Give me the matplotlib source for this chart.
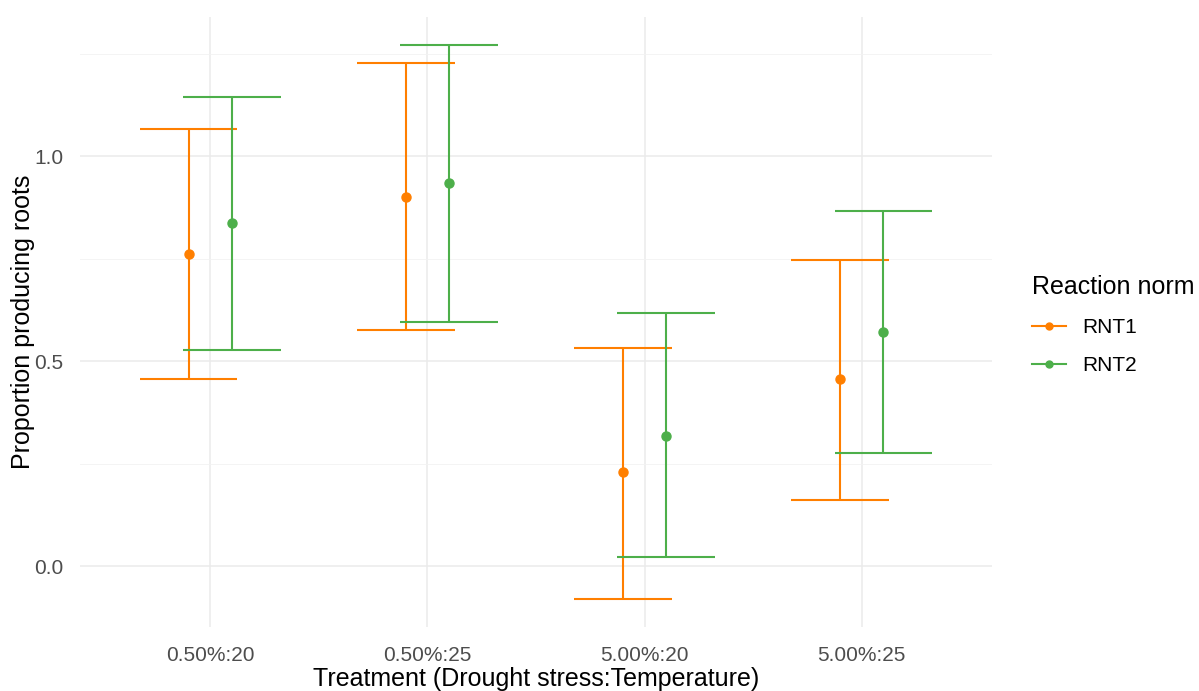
import numpy as np
import matplotlib.pyplot as plt

# Root production by treatment, two reaction norms
treatments = ["0.50%:20", "0.50%:25", "5.00%:20", "5.00%:25"]
groups = ["RNT1", "RNT2"]
means = {
    "RNT1": [0.761, 0.900, 0.229, 0.456],
    "RNT2": [0.837, 0.934, 0.317, 0.571],
}
upper = {
    "RNT1": [1.066, 1.227, 0.532, 0.746],
    "RNT2": [1.144, 1.271, 0.617, 0.866],
}
lower = {
    "RNT1": [0.456, 0.576, -0.080, 0.161],
    "RNT2": [0.527, 0.595, 0.022, 0.276],
}
colors = {"RNT1": "#FF7F00", "RNT2": "#4DAF4A"}

plt.rcParams['font.family'] = ['Liberation Sans', 'DejaVu Sans']

fig = plt.figure(figsize=(11.99, 6.91), dpi=100)
ax = fig.add_axes([80 / 1199, 1 - 627 / 691, 912 / 1199, 610 / 691])

x = np.arange(1, len(treatments) + 1)
dodge = {"RNT1": -0.1, "RNT2": 0.1}
half_cap = 0.225

for g in groups:
    xs = x + dodge[g]
    c = colors[g]
    m = np.array(means[g])
    lo = np.array(lower[g])
    hi = np.array(upper[g])
    ax.vlines(xs, lo, hi, color=c, lw=1.5, zorder=3)
    ax.hlines(hi, xs - half_cap, xs + half_cap, color=c, lw=1.5, zorder=3)
    ax.hlines(lo, xs - half_cap, xs + half_cap, color=c, lw=1.5, zorder=3)
    ax.plot(xs, m, 'o', color=c, ms=6.5, zorder=4)
    # legend key: line through point
    ax.plot([], [], '-o', color=c, ms=5, lw=1.5, label=g)

ax.set_xlim(0.4, 4.6)
ax.set_ylim(-0.148, 1.339)
ax.set_xticks(x)
ax.set_xticklabels(treatments)
ax.set_yticks([0.0, 0.5, 1.0])
ax.set_yticklabels(["0.0", "0.5", "1.0"])
ax.set_yticks([0.25, 0.75, 1.25], minor=True)

ax.grid(True, which='major', color='#EBEBEB', lw=1.1)
ax.grid(True, which='minor', axis='y', color='#F2F2F2', lw=0.6)
ax.set_axisbelow(True)
for s in ax.spines.values():
    s.set_visible(False)
ax.tick_params(which='both', length=0, labelsize=15, labelcolor='#4D4D4D', pad=14)
ax.tick_params(axis='y', pad=12)

ax.set_xlabel("Treatment (Drought stress:Temperature)", fontsize=18, color='black', labelpad=1)
ax.set_ylabel("Proportion producing roots", fontsize=18, color='black', labelpad=-1)

leg = ax.legend(title="Reaction norm", loc='center left', bbox_to_anchor=(1.035, 0.495),
                frameon=False, fontsize=15, title_fontsize=18, handlelength=1.6,
                labelspacing=0.9, alignment='left', borderaxespad=0)

fig.savefig("out.png", dpi=100)
